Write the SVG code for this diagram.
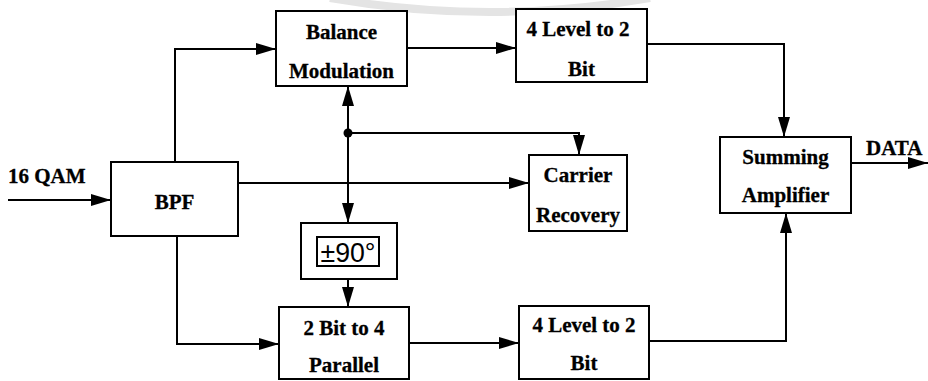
<svg xmlns="http://www.w3.org/2000/svg" width="928" height="381" viewBox="0 0 928 381">
  <style>
    .box { fill: #ffffff; stroke: #000000; stroke-width: 2; }
    .lbl { font-family: 'Liberation Serif', 'DejaVu Serif', serif; font-weight: bold; font-size: 21px; fill: #000000; stroke: #000000; stroke-width: 0.3; text-anchor: middle; }
    .io { font-family: 'Liberation Serif', 'DejaVu Serif', serif; font-weight: bold; font-size: 21px; fill: #000000; stroke: #000000; stroke-width: 0.3; }
    .wire { fill: none; stroke: #000000; stroke-width: 2; }
    .phase { font-family: 'Liberation Sans', Arial, sans-serif; font-size: 27px; fill: #000000; text-anchor: middle; }
  </style>
  <defs>
    <marker id="arrow" viewBox="0 0 20 12" refX="20" refY="6" markerWidth="20" markerHeight="12" markerUnits="userSpaceOnUse" orient="auto">
      <path d="M0,0 L20,6 L0,12 Z" fill="#000000"/>
    </marker>
  </defs>
  <rect width="928" height="381" fill="#ffffff"/>
  <!-- faint arc across the top edge -->
  <path d="M330,-2 Q490,26 650,-2" fill="none" stroke="#e4e4e4" stroke-width="8"/>

  <g id="connectors">
    <path class="wire" d="M8,200 L111,200" marker-end="url(#arrow)"/>
    <path class="wire" d="M175,162 L175,49 L276,49" marker-end="url(#arrow)"/>
    <path class="wire" d="M238,183 L529,183" marker-end="url(#arrow)"/>
    <path class="wire" d="M177,236 L177,344 L279,344" marker-end="url(#arrow)"/>
    <path class="wire" d="M407,48 L516,48" marker-end="url(#arrow)"/>
    <path class="wire" d="M647,44 L784,44 L784,137" marker-end="url(#arrow)"/>
    <path class="wire" d="M348,133 L348,86" marker-end="url(#arrow)"/>
    <path class="wire" d="M348,133 L348,223" marker-end="url(#arrow)"/>
    <path class="wire" d="M348,133 L579,133 L579,155" marker-end="url(#arrow)"/>
    <circle cx="348" cy="133" r="4.5" fill="#000000"/>
    <path class="wire" d="M348,279 L348,307" marker-end="url(#arrow)"/>
    <path class="wire" d="M409,343 L519,343" marker-end="url(#arrow)"/>
    <path class="wire" d="M649,341 L786,341 L786,213" marker-end="url(#arrow)"/>
    <path class="wire" d="M851,163 L928,163" marker-end="url(#arrow)"/>
  </g>

  <g id="input-label">
    <text class="io" x="8" y="183">16 QAM</text>
  </g>
  <g id="output-label">
    <text class="io" x="866" y="155" font-size="19">DATA</text>
  </g>

  <g id="bpf">
    <rect class="box" x="111" y="162" width="127" height="74"/>
    <text class="lbl" x="174.5" y="209">BPF</text>
  </g>

  <g id="balance-modulation">
    <rect class="box" x="276" y="11" width="131" height="75"/>
    <text class="lbl" x="341.5" y="39">Balance</text>
    <text class="lbl" x="341.5" y="78">Modulation</text>
  </g>

  <g id="level-to-bit-upper">
    <rect class="box" x="516" y="9" width="131" height="73"/>
    <text class="lbl" x="578" y="36">4 Level to 2</text>
    <text class="lbl" x="581.5" y="76">Bit</text>
  </g>

  <g id="carrier-recovery">
    <rect class="box" x="529" y="155" width="98" height="76"/>
    <text class="lbl" x="578" y="182">Carrier</text>
    <text class="lbl" x="578" y="222">Recovery</text>
  </g>

  <g id="phase-shift">
    <rect class="box" x="301" y="223" width="96" height="56"/>
    <rect class="box" x="317" y="237" width="62" height="29"/>
    <text class="phase" x="348" y="262" textLength="55" lengthAdjust="spacingAndGlyphs">±90°</text>
  </g>

  <g id="bit-to-parallel">
    <rect class="box" x="279" y="307" width="130" height="72"/>
    <text class="lbl" x="344" y="335">2 Bit to 4</text>
    <text class="lbl" x="344" y="372">Parallel</text>
  </g>

  <g id="level-to-bit-lower">
    <rect class="box" x="519" y="306" width="130" height="73"/>
    <text class="lbl" x="584" y="332">4 Level to 2</text>
    <text class="lbl" x="584" y="370">Bit</text>
  </g>

  <g id="summing-amplifier">
    <rect class="box" x="720" y="137" width="131" height="76"/>
    <text class="lbl" x="785.5" y="164">Summing</text>
    <text class="lbl" x="785.5" y="202">Amplifier</text>
  </g>
</svg>
